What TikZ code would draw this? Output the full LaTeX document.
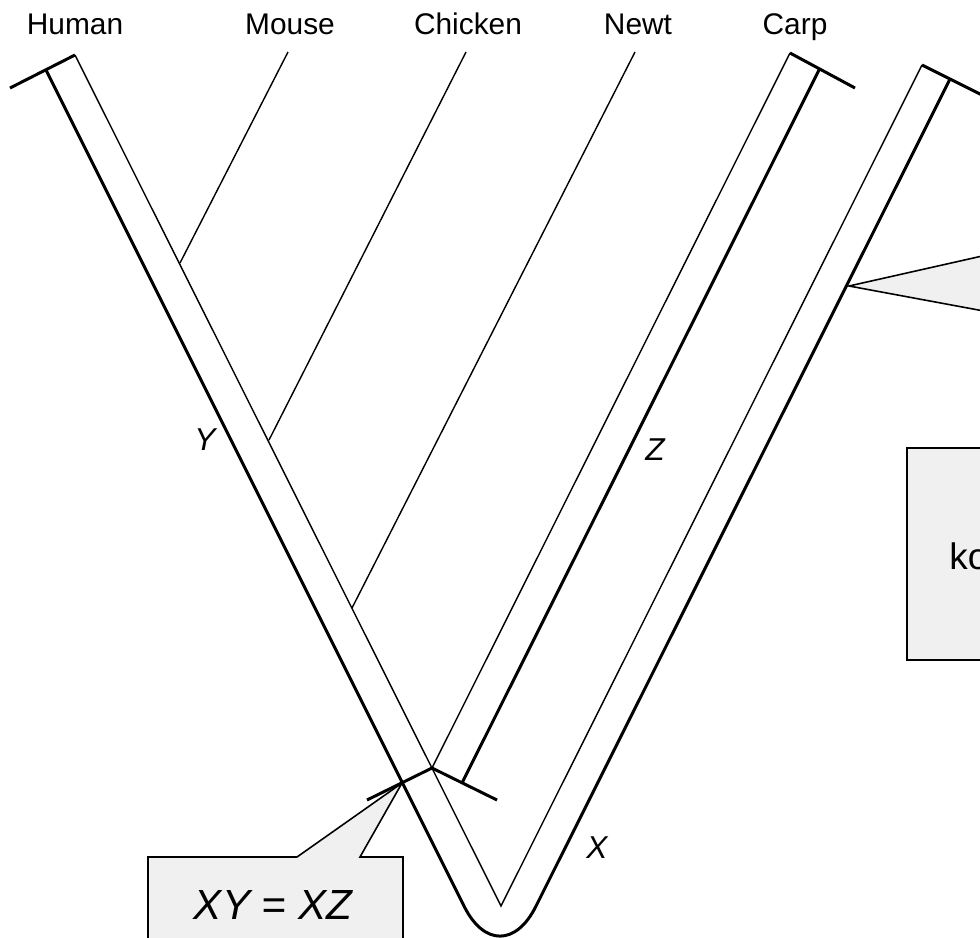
\documentclass[tikz,border=0pt]{standalone}
\usepackage{fontspec}
\setmainfont{Liberation Sans}

\begin{document}
\begin{tikzpicture}[
        x=0.02cm, y=-0.02cm,
        stem/.style={line width=1.7pt},
        twig/.style={line width=0.8pt},
        taxon/.style={font=\fontsize{17}{20}\selectfont, anchor=base, inner sep=0pt},
        dist/.style={font=\fontsize{18}{21}\selectfont\itshape, inner sep=0pt},
        callout/.style={draw, line width=0.9pt, fill=black!6}
    ]
        \useasboundingbox (0,0) rectangle (980,937);
        \clip (0,0) rectangle (980,937);
        % taxa
        \node[taxon] (human)   at (75,34)  {Human};
        \node[taxon] (mouse)   at (290,34) {Mouse};
        \node[taxon] (chicken) at (468,34) {Chicken};
        \node[taxon] (newt)    at (638,34) {Newt};
        \node[taxon] (carp)    at (795,34) {Carp};
        % tips and joints
        \coordinate (hT) at (75,55);
        \coordinate (hK) at (46,70);
        \coordinate (hE) at (10,88);
        \coordinate (cT) at (790,53);
        \coordinate (cK) at (820,68);
        \coordinate (cE) at (855,88);
        \coordinate (rT) at (922,65);
        \coordinate (rK) at (950,79);
        \coordinate (rE) at (1000,104);
        \coordinate (root) at (432,768);
        \coordinate (vee) at (501,906);
        \coordinate (ubot) at (500,978);
        \coordinate (bL) at (367,800);
        \coordinate (bR) at (497,800);
        \coordinate (bZ) at (462,783);
        \coordinate (mJ) at (180,263);
        \coordinate (mT) at (288,52);
        \coordinate (kJ) at (269,440);
        \coordinate (kT) at (466,52);
        \coordinate (nJ) at (352,608);
        \coordinate (nT) at (635,52);
        % thin lines
        \draw[twig] (hT) -- (vee) -- (rT);
        \draw[twig] (cT) -- (root);
        \draw[twig] (mJ) -- (mT);
        \draw[twig] (kJ) -- (kT);
        \draw[twig] (nJ) -- (nT);
        % thick lines
        \draw[stem, rounded corners=1.6cm] (hK) -- (ubot) -- (rK);
        \draw[stem] (cK) -- (bZ);
        \draw[stem] (hE) -- (hT);
        \draw[stem] (cT) -- (cE);
        \draw[stem] (rT) -- (rE);
        \draw[stem] (bL) -- (root) -- (bR);
        % branch lengths
        \node[dist] (Y) at (205,440) {Y};
        \node[dist] (Z) at (655,450) {Z};
        \node[dist] (X) at (597,848) {X};
        % callouts
        \coordinate (tip) at (402,783);
        \draw[callout] (148,857) -- (297,857) -- (tip) -- (360,857) -- (403,857)
            -- (403,950) -- (148,950) -- cycle;
        \node[font=\fontsize{24}{28}\selectfont\itshape] (eq) at (273,905) {XY = XZ};
        \coordinate (tip2) at (849,286);
        \draw[callout] (1000,252) -- (tip2) -- (1000,314);
        \draw[callout] (907,448) rectangle (1000,660);
        \node[font=\fontsize{21}{25}\selectfont, anchor=base west, inner sep=0pt] (ko) at (949,569) {ko};
    \end{tikzpicture}
\end{document}
